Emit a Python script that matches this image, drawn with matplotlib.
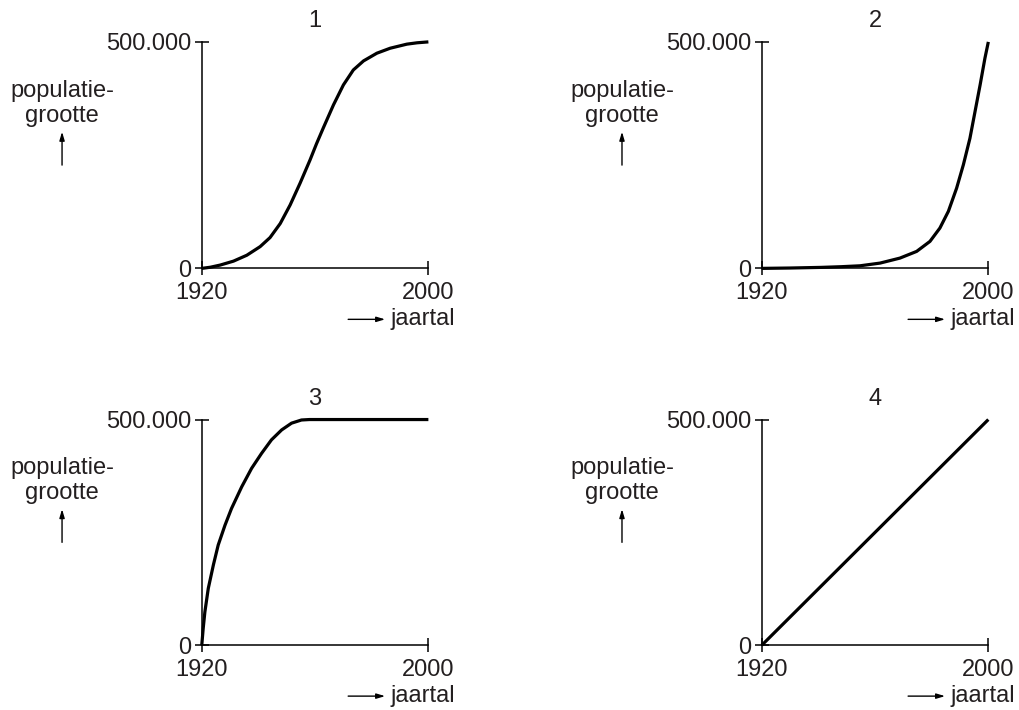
import numpy as np
import matplotlib
matplotlib.use('Agg')
from matplotlib import pyplot as plt

plt.rcParams['font.family'] = ['Liberation Sans', 'DejaVu Sans']

# gegevens per grafiek (jaartal, populatiegrootte)
jaar_1 = [1920, 1923, 1926.5, 1931.2, 1935.9, 1940.6, 1944.1, 1947.7, 1951.2,
          1954.7, 1958.2, 1960.5, 1962.9, 1966.5, 1970.0, 1973.5, 1977.1,
          1981.8, 1986.5, 1992.4, 1996, 2000]
pop_1 = [0, 2500, 7300, 16000, 29000, 48000, 68000, 99000, 140000,
         188000, 239000, 275000, 310000, 361000, 405000, 438000, 458000,
         475000, 486000, 495000, 498000, 500000]

jaar_2 = [1920, 1930, 1941, 1948, 1954.7, 1961.8, 1968.8, 1974.7, 1979.4,
          1982.9, 1985.9, 1988.8, 1991.2, 1993.5, 1995.3, 1997.1, 1998.8, 2000]
pop_2 = [0, 800, 2200, 3700, 5700, 11700, 22700, 37500, 59600,
         89000, 126000, 177000, 229000, 287000, 346000, 405000, 464000, 500000]

jaar_3 = [1920, 1920.5, 1921.1, 1922.3, 1924.1, 1925.8, 1928.2, 1930.5, 1934.1,
          1937.6, 1941.1, 1944.6, 1948.2, 1951.7, 1955.2, 1958, 2000]
pop_3 = [0, 37000, 74000, 126000, 178000, 222000, 266000, 303000, 351000,
         392000, 425000, 455000, 477000, 492000, 499000, 500000, 500000]

jaar_4 = [1920, 2000]
pop_4 = [0, 500000]

titels = ['1', '2', '3', '4']
x_ticks = [1920, 2000]
y_ticks = [0, 500000]
y_labels = ['0', '500.000']

tekst = '#231f20'
fs = 17

fig = plt.figure(figsize=(10.19, 7.10), dpi=100)

# posities van de assen [links, onder, breedte, hoogte]
posities = [[0.198, 0.622, 0.2224, 0.319],
            [0.7475, 0.622, 0.2224, 0.319],
            [0.198, 0.0911, 0.2224, 0.318],
            [0.7475, 0.0911, 0.2224, 0.318]]
reeksen = [(jaar_1, pop_1), (jaar_2, pop_2), (jaar_3, pop_3), (jaar_4, pop_4)]

for i, (x, y) in enumerate(reeksen):
    ax = fig.add_axes(posities[i])
    ax.plot(x, y, color='black', lw=2.3, clip_on=False,
            solid_capstyle='butt', solid_joinstyle='round')
    ax.set_xlim(1920, 2000)
    ax.set_ylim(0, 500000)
    for s in ['top', 'right']:
        ax.spines[s].set_visible(False)
    for s in ['left', 'bottom']:
        ax.spines[s].set_linewidth(1.1)
        ax.spines[s].set_color('black')
    ax.set_xticks(x_ticks)
    ax.set_xticklabels([str(t) for t in x_ticks])
    ax.set_yticks(y_ticks)
    ax.set_yticklabels(y_labels)
    ax.tick_params(direction='inout', length=9.4, width=1.1, colors='black',
                   labelsize=fs, labelcolor=tekst)
    ax.tick_params(axis='y', pad=3)
    ax.tick_params(axis='x', pad=5)

    # titel
    ax.text(0.5, 1.065, titels[i], transform=ax.transAxes, ha='center',
            va='baseline', fontsize=fs, color=tekst)
    # y-label
    ax.text(-0.6165, 0.757, 'populatie-', transform=ax.transAxes, ha='center',
            va='baseline', fontsize=fs, color=tekst)
    ax.text(-0.6165, 0.646, 'grootte', transform=ax.transAxes, ha='center',
            va='baseline', fontsize=fs, color=tekst)
    ax.annotate('', xy=(-0.6165, 0.603), xytext=(-0.6165, 0.456),
                xycoords='axes fraction', textcoords='axes fraction',
                arrowprops=dict(arrowstyle='-|>,head_length=0.5,head_width=0.15',
                                color='black', lw=1.0, shrinkA=0, shrinkB=0))
    # x-label
    ax.text(0.831, -0.250, 'jaartal', transform=ax.transAxes, ha='left',
            va='baseline', fontsize=fs, color=tekst)
    ax.annotate('', xy=(0.809, -0.225), xytext=(0.646, -0.225),
                xycoords='axes fraction', textcoords='axes fraction',
                arrowprops=dict(arrowstyle='-|>,head_length=0.5,head_width=0.15',
                                color='black', lw=1.0, shrinkA=0, shrinkB=0))

fig.savefig('out.png', dpi=100)
